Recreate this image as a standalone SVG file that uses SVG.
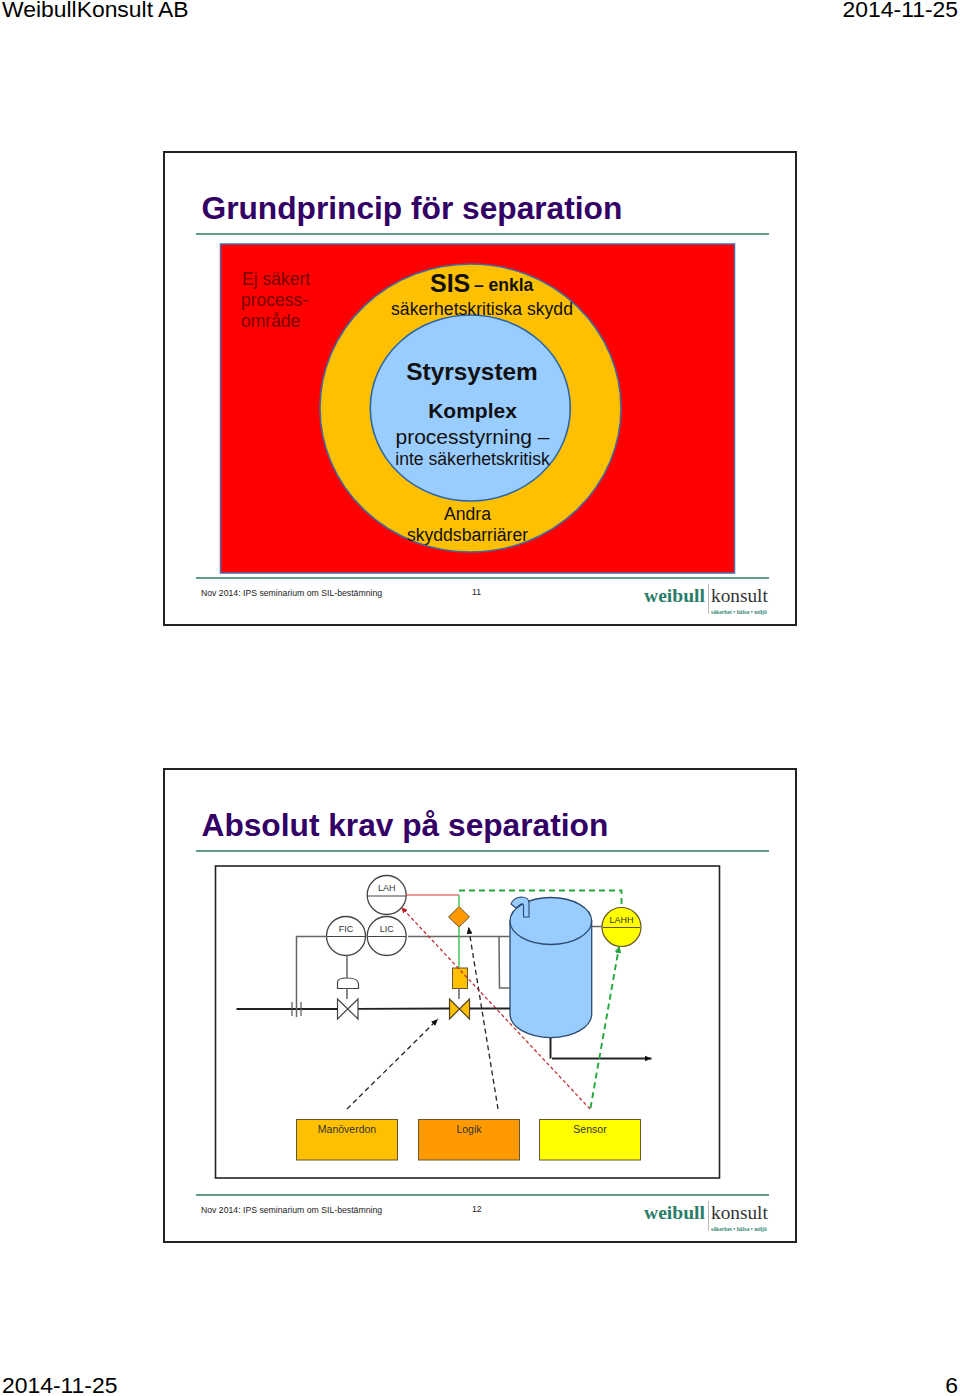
<svg xmlns="http://www.w3.org/2000/svg" width="960" height="1396" viewBox="0 0 960 1396">
<style>
text{font-family:"Liberation Sans",Arial,sans-serif;fill:#111}
.hdr{font-size:22.9px;fill:#000}
.frame{fill:#fff;stroke:#222;stroke-width:2}
.title{font-size:31.7px;font-weight:bold;fill:#330066}
.rule{stroke:#5f9e85;stroke-width:2;fill:none}
.foot{font-size:8.7px;fill:#222}
.wb{font-family:"Liberation Serif",serif;font-size:19.6px;font-weight:bold;fill:#2a7d68}
.kn{font-family:"Liberation Serif",serif;font-size:19.3px;fill:#333}
.tag{font-family:"Liberation Serif",serif;font-size:5.7px;font-weight:bold;fill:#3c8a74}
.lb{font-size:17.6px;text-anchor:middle}
.lb2{font-size:10.5px;text-anchor:middle;fill:#333}
.lb3{font-size:9px;text-anchor:middle;fill:#333}
.inst{fill:#fff;stroke:#444;stroke-width:1.3}
.gr{stroke:#666;stroke-width:1.5;fill:none}
.bk{stroke:#222;stroke-width:1.8;fill:none}
.dk{stroke:#222;stroke-width:1.3;stroke-dasharray:5 3.5;fill:none}
.rd{stroke:#c0202a;stroke-width:1.2;stroke-dasharray:3.5 2.5;fill:none}
.gd{stroke:#22a83a;stroke-width:1.9;stroke-dasharray:6 4;fill:none}
.box{stroke:#665533;stroke-width:1}
</style>
<defs>
<marker id="ab" markerUnits="userSpaceOnUse" markerWidth="8" markerHeight="8" refX="7" refY="4" orient="auto"><path d="M0 1L7 4L0 7z" fill="#111"/></marker>
<marker id="ar" markerUnits="userSpaceOnUse" markerWidth="6" markerHeight="6" refX="5" refY="3" orient="auto"><path d="M0 0L6 3L0 6z" fill="#c0202a"/></marker>
<marker id="ag" markerUnits="userSpaceOnUse" markerWidth="7" markerHeight="7" refX="6" refY="3.500" orient="auto"><path d="M0 0L7 3.500L0 7z" fill="#22a83a"/></marker>
<g id="logo">
<text class="wb" x="644" y="602">weibull</text>
<path d="M708.500 584V614" stroke="#bbb" stroke-width="1"/>
<text class="kn" x="711" y="602">konsult</text>
<text class="tag" x="711" y="614">säkerhet • hälsa • miljö</text>
</g>
</defs>
<rect width="960" height="1396" fill="#fff"/>
<g id="page-header">
<text class="hdr" x="2" y="17">WeibullKonsult AB</text>
<text class="hdr" x="958" y="17" text-anchor="end">2014-11-25</text>
<text class="hdr" x="2" y="1393">2014-11-25</text>
<text class="hdr" x="958" y="1393" text-anchor="end">6</text>
</g>
<g id="slide-11">
<rect class="frame" x="164" y="152" width="632" height="473"/>
<text class="title" x="201.500" y="219">Grundprincip för separation</text>
<path class="rule" d="M196 234H769M196 578H769"/>
<rect x="220.500" y="244" width="514" height="329" fill="#ff0000" stroke="#4a6aa8" stroke-width="1.5"/>
<ellipse cx="470.500" cy="408" rx="150.500" ry="144" fill="#ffc000" stroke="#44689c" stroke-width="1.6"/>
<ellipse cx="470.300" cy="408" rx="100" ry="93" fill="#99ccff" stroke="#2a66a8" stroke-width="1.6"/>
<text x="242" y="284.500" style="font-size:17.500px;fill:#700">Ej säkert</text>
<text x="241" y="306" style="font-size:17.500px;fill:#700">process-</text>
<text x="241" y="326.500" style="font-size:17.500px;fill:#700">område</text>
<text x="430" y="292" style="font-size:25px;font-weight:bold">SIS</text>
<text x="474" y="291" style="font-size:17.500px;font-weight:bold">– enkla</text>
<text class="lb" x="482" y="314.500">säkerhetskritiska skydd</text>
<text x="472" y="379.500" text-anchor="middle" style="font-size:24.400px;font-weight:bold">Styrsystem</text>
<text x="472.500" y="418" text-anchor="middle" style="font-size:21px;font-weight:bold">Komplex</text>
<text x="472.500" y="444" text-anchor="middle" style="font-size:21px">processtyrning –</text>
<text class="lb" x="472.500" y="465">inte säkerhetskritisk</text>
<text class="lb" x="467.500" y="520">Andra</text>
<text class="lb" x="467.500" y="541">skyddsbarriärer</text>
<text class="foot" x="201" y="595.500">Nov 2014: IPS seminarium om SIL-bestämning</text>
<text class="foot" x="472" y="595">11</text>
<use href="#logo"/>
</g>
<g id="slide-12">
<rect class="frame" x="164" y="769" width="632" height="473"/>
<text class="title" x="201.500" y="836">Absolut krav på separation</text>
<path class="rule" d="M196 851H769M196 1195H769"/>
<rect x="215.500" y="866" width="504" height="312" fill="#fff" stroke="#222" stroke-width="1.6"/>
<text class="foot" x="201" y="1212.500">Nov 2014: IPS seminarium om SIL-bestämning</text>
<text class="foot" x="472" y="1212">12</text>
<use href="#logo" y="617"/>
</g>
<g id="lah"><circle class="inst" cx="386.700" cy="895" r="19.500"/><path d="M367.500 896H406" stroke="#444"/><text class="lb3" x="386.700" y="891">LAH</text></g>
<g id="fic"><circle class="inst" cx="346" cy="936" r="19.500"/><path d="M327 936.500H365" stroke="#444"/><text class="lb3" x="346" y="932">FIC</text></g>
<g id="lic"><circle class="inst" cx="386.700" cy="936" r="19.500"/><path d="M367.500 936.500H406" stroke="#444"/><text class="lb3" x="386.700" y="932">LIC</text></g>
<g id="lahh"><circle cx="621.500" cy="927" r="19.500" fill="#ffff00" stroke="#665522" stroke-width="1.200"/><path d="M603 927.500H640" stroke="#665522"/><text class="lb3" x="621.500" y="922.500">LAHH</text></g>
<g id="actuator-fic"><path d="M337.500 988.500V982Q337.500 978 347 978Q358.500 978 358.500 984V988.500Z" fill="#fff" stroke="#444" stroke-width="1.200"/></g>
<g id="valve-fic"><path d="M337.500 999L358 1019V999L337.500 1019Z" fill="#fff" stroke="#444" stroke-width="1.200"/></g>
<g id="valve-sis"><path d="M449.500 999L469.500 1019V999L449.500 1019Z" fill="#ffc000" stroke="#554422" stroke-width="1.200"/></g>
<g id="actuator-sis"><rect x="452.500" y="968" width="15" height="20.500" fill="#ffc000" stroke="#665533"/></g>
<g id="diamond"><path d="M459 906.500L469.500 917L459 927L448.500 917Z" fill="#ff9900" stroke="#665533"/></g>
<g id="tank">
<path d="M510 921V1014A40.800 23.500 0 0 0 591.700 1014V921Z" fill="#99ccff" stroke="#2b4a70" stroke-width="1.300"/>
<ellipse cx="550.800" cy="921" rx="40.800" ry="23.500" fill="#99ccff" stroke="#2b4a70" stroke-width="1.300"/>
<path d="M523.500 917H529V903Q529 897 521 897Q513 898 511 904L516 908L521 904Q523.500 903 523.500 906Z" fill="#99ccff" stroke="#2b4a70" stroke-width="1.100"/>
</g>
<g id="manoverdon"><rect class="box" x="296.500" y="1119.500" width="101" height="40.500" fill="#ffc000"/><text class="lb2" x="347" y="1133">Manöverdon</text></g>
<g id="logik"><rect class="box" x="418.500" y="1119.500" width="101" height="40.500" fill="#ff9900"/><text class="lb2" x="469" y="1133">Logik</text></g>
<g id="sensor"><rect class="box" x="539.500" y="1119.500" width="101" height="40.500" fill="#ffff00"/><text class="lb2" x="590" y="1133">Sensor</text></g>
<g id="connectors">
<path class="bk" d="M236.500 1009H338M358 1008.800L450 1008.500M470 1008.500H510"/>
<path class="gr" d="M296.500 1017V936.500H327M408 936.500H510M347 955V978M347 988.500V999M459 988.500V999M499 936.500L499.500 988H510M591.700 926.500H602"/>
<path d="M292 1002V1016M301 1002V1016" stroke="#555" stroke-width="1.200"/>
<path d="M406 895H459" stroke="#e03030" stroke-width="1.200"/>
<path d="M459 895V906.500M459 927V968" stroke="#3fbf4f" stroke-width="1.400"/>
<path class="gd" d="M459 890.500H621.500V907"/>
<path d="M550.500 1038V1058.500" stroke="#222" stroke-width="2"/>
<path d="M552 1058.500H651.500" stroke="#222" stroke-width="1.800" marker-end="url(#ab)"/>
<path class="dk" d="M347 1109L438 1019" marker-end="url(#ab)"/>
<path class="dk" d="M498 1109L468.500 927" marker-end="url(#ab)"/>
<path class="rd" d="M590 1109L402 908" marker-end="url(#ar)"/>
<path class="gd" d="M590.500 1108L619 947" marker-end="url(#ag)"/>
</g>
</svg>
